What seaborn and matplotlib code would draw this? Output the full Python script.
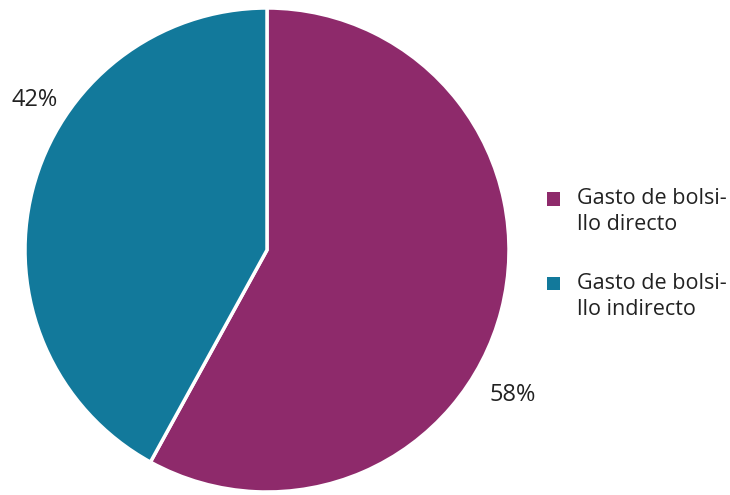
import matplotlib
matplotlib.use("Agg")
import matplotlib.pyplot as plt
import seaborn as sns
from matplotlib.patches import Patch, Rectangle
from matplotlib.legend_handler import HandlerPatch

# data
categories = ["Gasto de bolsi-\nllo directo", "Gasto de bolsi-\nllo indirecto"]
shares = [58, 42]
colors = ["#8E2A6B", "#12799B"]

sns.set_style("white")
plt.rcParams['font.family'] = ['Open Sans', 'DejaVu Sans']

fig = plt.figure(figsize=(7.3, 4.95), dpi=100)
ax = fig.add_axes([25 / 730, 3 / 495, 484 / 730, 484 / 495])

wedges, _ = ax.pie(shares, colors=colors, startangle=90, counterclock=False,
                   wedgeprops=dict(edgecolor="white", linewidth=2.5))
ax.set_xlim(-1, 1)
ax.set_ylim(-1, 1)
ax.set_aspect("equal")
ax.axis("off")

# percentage labels outside the slices
label_pos = [(1.017, -0.60), (-0.96, 0.62)]
for val, (x, y) in zip(shares, label_pos):
    ax.text(x, y, f"{val}%", ha="center", va="center", fontsize=17, color="#222222")


# legend square sits next to the first line of the wrapped label
def top_square(legend, orig_handle, xdescent, ydescent, width, height, fontsize):
    return Rectangle((-xdescent, -ydescent + 9.5), width, height)


handles = [Patch(facecolor=c, edgecolor="none") for c in colors]
fig.legend(handles, categories, loc="upper left", bbox_to_anchor=(541 / 730, 1 - 182 / 495),
           frameon=False, fontsize=15.5, handlelength=0.6, handleheight=0.6,
           handletextpad=0.75, labelspacing=1.75, labelcolor="#222222",
           borderaxespad=0, borderpad=0.3,
           handler_map={Patch: HandlerPatch(patch_func=top_square)})
for t in fig.legends[0].get_texts():
    t.set_linespacing(1.3)

fig.savefig("out.png", dpi=100)
